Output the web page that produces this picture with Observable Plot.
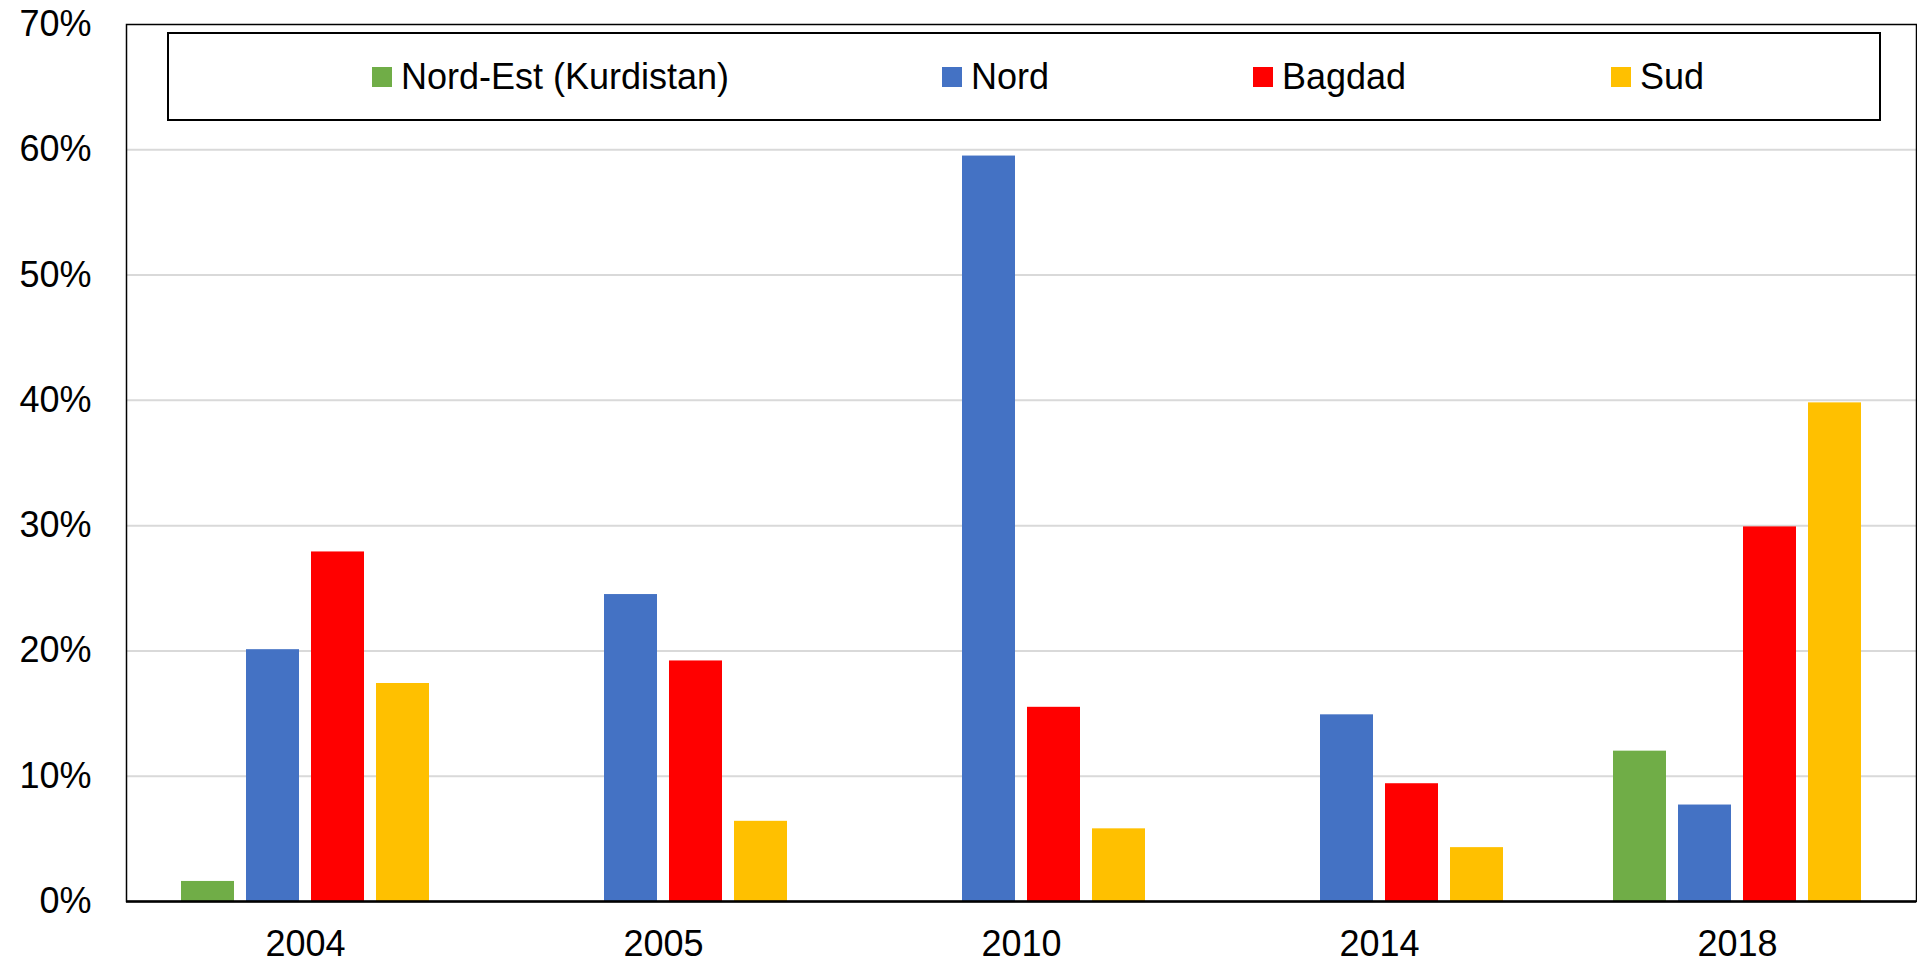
<!DOCTYPE html>
<html>
<head>
<meta charset="utf-8">
<script src="https://cdn.jsdelivr.net/npm/d3@7"></script>
<script src="https://cdn.jsdelivr.net/npm/@observablehq/plot@0.6"></script>
<style>
  html, body { margin: 0; padding: 0; background: #fff; }
  #wrap { position: relative; width: 1917px; height: 964px; font-family: "Liberation Sans", Arial, sans-serif; }
  #legend { position: absolute; left: 167px; top: 32px; width: 1710px; height: 85px; border: 2px solid #000; background: #fff; box-sizing: content-box; }
  .item { position: absolute; top: 0; height: 85px; display: flex; align-items: center; font-size: 36px; color: #000; white-space: nowrap; }
  .sw { width: 20px; height: 20px; margin-right: 9px; }
</style>
</head>
<body>
<div id="wrap"></div>
<script>
// ---- data ----
const years = ["2004", "2005", "2010", "2014", "2018"];
const regions = ["Nord-Est (Kurdistan)", "Nord", "Bagdad", "Sud"];
const kurdistan = [1.6, null, null, null, 12.0];
const nord = [20.1, 24.5, 59.5, 14.9, 7.7];
const bagdad = [27.9, 19.2, 15.5, 9.4, 29.9];
const sud = [17.4, 6.4, 5.8, 4.3, 39.8];
const colors = ["#70AD47", "#4472C4", "#FF0000", "#FFC000"];
const yTicks = [0, 10, 20, 30, 40, 50, 60, 70];

const series = [kurdistan, nord, bagdad, sud];
const rows = [];
years.forEach((yr, i) => {
  regions.forEach((r, j) => {
    const v = series[j][i];
    if (v != null) rows.push({year: yr, region: r, value: v});
  });
});

const chart = Plot.plot({
  width: 1917,
  height: 964,
  marginLeft: 125,
  marginRight: 1,
  marginTop: 24,
  marginBottom: 63,
  style: { fontFamily: "'Liberation Sans', Arial, sans-serif", fontSize: "36px", color: "#000", background: "#fff" },
  fx: { domain: years, padding: 0, axis: "bottom", tickSize: 0, tickPadding: 29, label: null },
  x: { domain: regions, axis: null, paddingInner: 0.19, paddingOuter: 0.82 },
  y: { domain: [0, 70], ticks: yTicks, tickFormat: d => d + "%", tickSize: 0, tickPadding: 35, label: null },
  color: { domain: regions, range: colors },
  marks: [
    Plot.gridY(yTicks.filter(t => t > 0 && t < 70), { stroke: "#d9d9d9", strokeOpacity: 1, strokeWidth: 2 }),
    Plot.barY(rows, { fx: "year", x: "region", y: "value", fill: "region" }),
    Plot.ruleY([0], { stroke: "#000", strokeWidth: 2.5 }),
    Plot.frame({ facet: "super", stroke: "#000", strokeWidth: 1.5 })
  ]
});

const wrap = document.getElementById("wrap");
wrap.appendChild(chart);

// legend
const legendPos = [203, 773, 1084, 1442];
const legend = document.createElement("div");
legend.id = "legend";
regions.forEach((r, j) => {
  const it = document.createElement("div");
  it.className = "item";
  it.style.left = legendPos[j] + "px";
  const sw = document.createElement("span");
  sw.className = "sw";
  sw.style.background = colors[j];
  const tx = document.createElement("span");
  tx.textContent = r;
  it.appendChild(sw);
  it.appendChild(tx);
  legend.appendChild(it);
});
wrap.appendChild(legend);
</script>
</body>
</html>
